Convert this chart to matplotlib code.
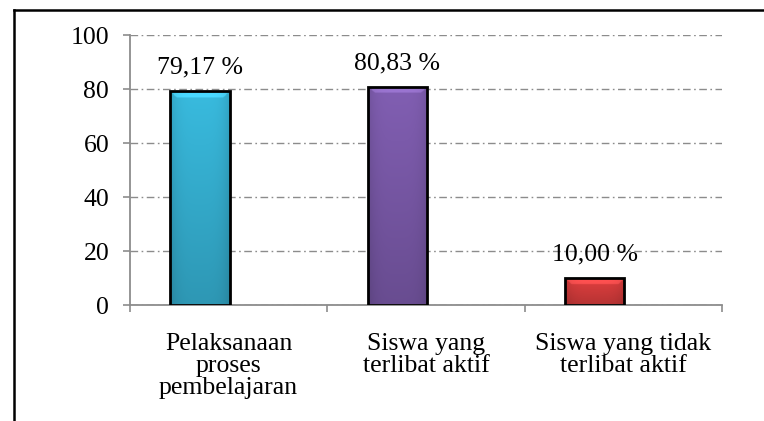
import numpy as np
import matplotlib
matplotlib.use("Agg")
import matplotlib.pyplot as plt
from matplotlib.colors import to_rgb
from matplotlib.patches import Rectangle

categories = ["Pelaksanaan\nproses\npembelajaran", "Siswa yang\nterlibat aktif", "Siswa yang tidak\nterlibat aktif"]
values = [79.17, 80.83, 10.00]
value_labels = ["79,17 %", "80,83 %", "10,00 %"]
bar_colors = ["#36b2d4", "#7b5aaa", "#d63c3c"]
yticks = [0, 20, 40, 60, 80, 100]

plt.rcParams['font.family'] = ['Liberation Serif', 'DejaVu Serif']
FS = 18.5

fig = plt.figure(figsize=(7.64, 4.21), dpi=100)
ax = fig.add_axes([130/764, 1-305/421, (722-130)/764, 270/421])

offset = -0.145
width = 0.30
x = np.arange(len(values)) + offset

bars = ax.bar(x, values, width=width, color='none', edgecolor='black', linewidth=2.0, zorder=3)

for b, c in zip(bars, bar_colors):
    base = np.array(to_rgb(c))
    n = 64
    m = 300
    bx, by = b.get_x(), b.get_y()
    bw, bh = b.get_width(), b.get_height()
    h_px = bh / 100 * 270
    yy = np.linspace(0, 1, m)[:, None]   # 0 bottom -> 1 top
    xx = np.linspace(0, 1, n)[None, :]
    shade = 0.85 + 0.2 * yy
    side = 1 - 0.12 * (np.abs(xx - 0.5) * 2) ** 4
    img = np.clip(base[None, None, :] * (shade * side)[:, :, None], 0, 1)
    dtop = (1 - yy) * h_px * np.ones_like(xx)
    dx = np.minimum(xx, 1 - xx) * 60 * np.ones_like(yy)
    bev = (dtop < 6) & (dx > dtop)
    img = np.where(bev[:, :, None], np.clip(img * 1.1 + 0.05, 0, 1), img)
    im = ax.imshow(img, extent=[bx, bx + bw, by, by + bh], origin='lower',
                   aspect='auto', zorder=2, interpolation='bilinear')
    clip = Rectangle((bx, by), bw, bh, transform=ax.transData)
    im.set_clip_path(clip)

for xi, v, lab in zip(x, values, value_labels):
    ax.annotate(lab, (xi, v), xytext=(0, 9), textcoords='offset points',
                ha='center', va='bottom', fontsize=FS, color='black')

ax.set_xlim(-0.5, 2.5)
ax.set_ylim(0, 100)
ax.set_yticks(yticks)
ax.set_yticklabels([str(t) for t in yticks], fontsize=FS)
ax.yaxis.grid(True, color='#8c8c8c', linewidth=1.0, linestyle=(0, (5.5, 2.5, 1.2, 2.5)), zorder=0)
ax.set_axisbelow(True)

ax.set_xticks([-0.5, 0.5, 1.5, 2.5])
ax.set_xticklabels([])
ax.set_xticks(np.arange(len(categories)), minor=True)
ax.set_xticklabels(categories, minor=True, fontsize=FS, linespacing=1.0)
ax.tick_params(axis='x', which='minor', length=0, pad=20)
ax.tick_params(axis='x', which='major', length=5, width=1.2, color='#8c8c8c', direction='out')
ax.tick_params(axis='y', length=5, width=1.2, color='#8c8c8c', direction='out', pad=10)

for s in ['top', 'right']:
    ax.spines[s].set_visible(False)
for s in ['left', 'bottom']:
    ax.spines[s].set_color('#8c8c8c')
    ax.spines[s].set_linewidth(1.3)

fig.add_artist(plt.Line2D([13.5/764, 13.5/764], [0, 1-9.5/421], transform=fig.transFigure, color='black', linewidth=1.8))
fig.add_artist(plt.Line2D([13.5/764, 1], [1-9.5/421, 1-9.5/421], transform=fig.transFigure, color='black', linewidth=1.8))

fig.savefig("out.png", dpi=100)
